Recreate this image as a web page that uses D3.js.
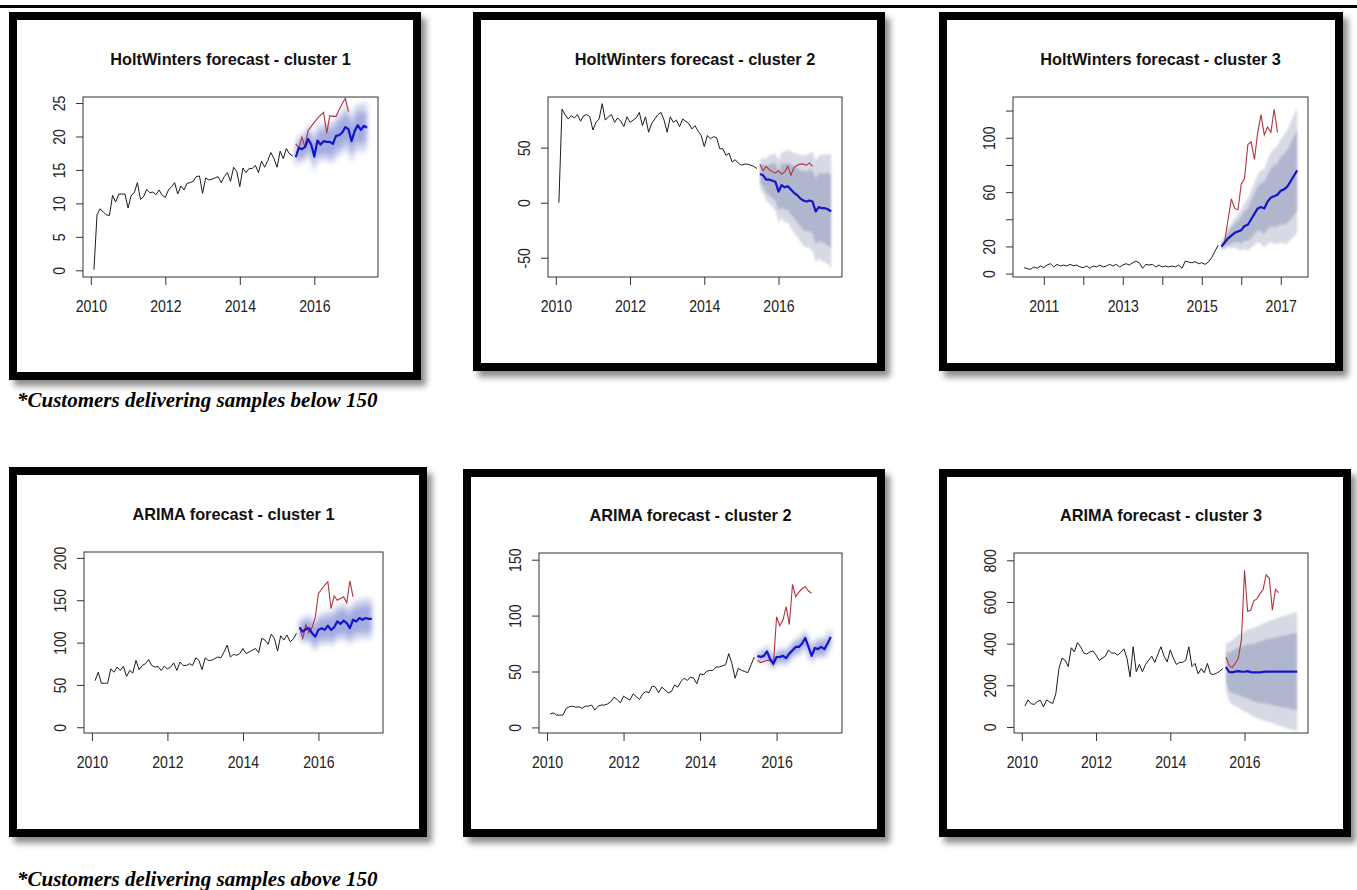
<!DOCTYPE html>
<html>
<head>
<meta charset="utf-8">
<title>Forecasts by cluster</title>
<script src="https://cdn.jsdelivr.net/npm/d3@7"></script>
<style>
    body { margin: 0; background: #fff; }
    svg { display: block; }
</style>
</head>
<body>
<svg width="1357" height="890"></svg>
<script>
// ---- HoltWinters, cluster 1 (monthly, from Feb 2010) ----
var hw1Hist = [0.1, 8.3, 9.2, 8.7, 8.3, 8.2, 11.2, 10.2, 11.4, 11.4, 11.4, 9.3, 11.2, 11.6, 13.1, 10.6, 11.0, 12.1, 11.6, 11.7,
    11.3, 12.0, 11.2, 10.9, 12.0, 12.5, 13.1, 11.4, 12.6, 12.0, 13.0, 13.1, 13.3, 14.0, 14.1, 11.5, 13.8, 13.5, 13.6, 13.8,
    14.0, 13.1, 14.0, 14.6, 13.3, 15.4, 14.8, 12.5, 15.3, 14.6, 15.2, 15.2, 15.7, 14.6, 16.3, 15.4, 16.4, 17.6, 16.7, 15.4,
    17.8, 16.7, 18.2, 17.4, 17.1];
var hw1Fc = [16.9, 18.3, 18.1, 18.4, 19.6, 18.8, 17.0, 19.4, 18.8, 19.3, 19.2, 19.2, 18.9, 20.1, 20.2, 20.6, 21.4, 21.1, 19.3, 20.8, 21.7, 21.0, 21.6, 21.3];
var hw1Act = [18.9, 18.3, 19.9, 18.4, 20.9, 21.5, 22.1, 22.7, 23.2, 23.6, 20.5, 23.1, 23.0, 23.0, 24.0, 24.9, 25.7, 23.7];
var hw1Pi80 = [1.2, 1.3, 1.4, 1.4, 1.5, 1.6, 1.6, 1.7, 1.8, 1.8, 1.9, 2.0, 2.0, 2.0, 2.1, 2.1, 2.1, 2.1, 2.2, 2.2, 2.3, 2.3, 2.3, 2.3];
var hw1Pi95 = [1.8, 2.0, 2.1, 2.2, 2.3, 2.4, 2.5, 2.6, 2.7, 2.8, 2.9, 3.0, 3.0, 3.1, 3.2, 3.2, 3.3, 3.3, 3.4, 3.4, 3.5, 3.5, 3.6, 3.6];

// ---- HoltWinters, cluster 2 (from Feb 2010) ----
var hw2Hist = [0, 85, 80, 76, 79, 77, 80, 74, 79, 80, 78, 66, 73, 76, 90, 75, 78, 80, 73, 77,
    74, 69, 78, 73, 75, 77, 82, 70, 78, 64, 72, 76, 80, 82, 75, 64, 78, 73, 75, 69,
    76, 74, 72, 67, 70, 65, 61, 51, 61, 58, 60, 59, 49, 49, 43, 45, 37, 39, 36, 34,
    35, 35, 34, 33, 31];
var hw2Fc = [26, 25, 21, 21, 20, 19, 10, 16, 14, 15, 12, 9, 7, 4, 2, 1, 2, 1, -8, -4, -5, -5, -6, -8];
var hw2Act = [35, 29, 33, 30, 28, 27, 29, 26, 28, 33, 25, 32, 34, 35, 35, 34, 36, 33];
var hw2Pi80 = [8, 10, 12, 14, 16, 17, 18, 20, 21, 21, 23, 23, 25, 25, 27, 27, 28, 29, 30, 31, 31, 32, 33, 34];
var hw2Pi95 = [13, 16, 19, 22, 24, 26, 28, 30, 32, 33, 35, 36, 38, 39, 41, 42, 43, 45, 46, 47, 48, 49, 50, 52];

// ---- HoltWinters, cluster 3 (from Jul 2010) ----
var hw3Hist = [4.4, 3.6, 3.2, 4.9, 3.9, 5.6, 4.4, 6.3, 7.3, 4.9, 6.8, 5.6, 6.3, 5.6, 6.8, 5.8, 6.3, 4.9, 4.4, 5.6,
    3.9, 5.6, 4.9, 6.3, 4.9, 5.6, 6.8, 5.6, 6.8, 4.9, 6.3, 7.3, 6.3, 8.0, 9.2, 8.0, 3.9, 6.8, 6.3, 6.8,
    4.9, 6.3, 4.9, 5.6, 4.9, 5.6, 4.9, 6.3, 3.9, 9.2, 8.5, 8.0, 8.8, 7.3, 8.0, 6.8, 8.5, 11.7, 16.5, 20.9];
var hw3Fc = [20, 23, 26, 28, 30, 31, 32, 35, 36, 40, 44, 48, 49, 48, 53, 56, 57, 58, 61, 62, 64, 68, 72, 76];
var hw3Act = [20, 24, 40, 55, 48, 47, 66, 70, 95, 97, 84, 104, 117, 102, 108, 104, 121, 104];
var hw3Pi80 = [2, 3, 5, 6, 7, 8, 10, 11, 12, 14, 15, 16, 18, 19, 20, 21, 23, 23, 25, 26, 27, 28, 29, 30];
var hw3Pi95 = [3, 5, 7, 9, 11, 13, 15, 17, 19, 21, 23, 25, 27, 29, 31, 33, 35, 36, 38, 40, 42, 43, 45, 46];

// ---- ARIMA, cluster 1 (from Feb 2010) ----
var ar1Hist = [55, 65, 52, 52, 52, 69, 65, 71, 67, 72, 60, 67, 64, 79, 68, 73, 75, 80, 73, 71,
    72, 67, 72, 69, 71, 76, 67, 77, 73, 73, 75, 73, 82, 79, 68, 82, 79, 79, 81, 83,
    82, 89, 97, 83, 86, 85, 87, 93, 87, 89, 91, 93, 88, 105, 103, 98, 110, 105, 90, 108,
    103, 109, 101, 104, 111];
var ar1Fc = [118, 113, 116, 117, 111, 107, 115, 117, 115, 120, 115, 118, 125, 122, 126, 123, 117, 127, 125, 129, 127, 129, 128, 128];
var ar1Act = [118, 105, 121, 112, 118, 130, 158, 163, 168, 172, 140, 155, 150, 152, 154, 147, 173, 154];
var ar1Pi80 = [9, 10, 10, 11, 11, 12, 12, 12, 12, 13, 13, 14, 14, 14, 14, 14, 14, 15, 15, 15, 16, 16, 16, 16];
var ar1Pi95 = [14, 15, 16, 17, 17, 18, 18, 19, 19, 20, 20, 21, 21, 21, 22, 22, 22, 23, 23, 23, 24, 24, 24, 25];

// ---- ARIMA, cluster 2 (from Feb 2010) ----
var ar2Hist = [12, 13, 11, 11, 11, 17, 18.5, 19, 18, 18.5, 17, 19, 19, 20, 15.5, 19, 20, 20, 21, 23,
    27, 25, 22, 28, 26, 24.5, 30, 27.5, 25, 30, 32, 31, 37, 36, 31, 36, 33.5, 31, 32, 38,
    36, 41, 44, 42, 45, 44, 39, 48, 47, 50, 51, 51, 54, 54, 55, 56, 66, 57, 44, 53,
    51, 50, 49, 56, 63];
var ar2Fc = [64, 63, 64, 68, 61, 57, 63, 63, 64, 62, 66, 69, 72, 72, 75, 80, 72, 64, 71, 70, 72, 70, 75, 81];
var ar2Act = [60, 58, 59, 60, 60, 56, 99, 91, 96, 108, 92, 128, 117, 121, 124, 126, 122, 120];
var ar2Pi80 = [3, 3, 4, 4, 4, 4, 4, 4, 5, 5, 5, 5, 5, 5, 5, 5, 5, 5, 5, 6, 6, 6, 6, 6];
var ar2Pi95 = [5, 5, 6, 6, 6, 6, 7, 7, 7, 7, 7, 7, 8, 8, 8, 8, 8, 8, 8, 9, 9, 9, 9, 9];

// ---- ARIMA, cluster 3 (from Feb 2010) ----
var ar3Hist = [100, 130, 112, 108, 122, 128, 96, 130, 120, 112, 160, 280, 330, 320, 290, 380, 360, 405, 385, 355,
    350, 360, 365, 345, 320, 330, 340, 370, 355, 355, 345, 358, 375, 330, 240, 385, 265, 300, 265, 300,
    320, 340, 310, 350, 385, 340, 312, 370, 330, 300, 310, 310, 320, 385, 290, 305, 255, 280, 260, 305,
    255, 252, 258, 268, 280];
var ar3Fc = [288, 264, 262, 266, 268, 266, 265, 268, 263, 262, 262, 262, 264, 266, 266, 266, 266, 266, 266, 266, 266, 266, 266, 266];
var ar3Act = [335, 295, 285, 305, 330, 420, 752, 555, 560, 605, 615, 640, 660, 730, 715, 560, 660, 645];
var ar3Pi80 = [75, 91, 101, 107, 114, 120, 125, 130, 135, 138, 143, 147, 151, 155, 158, 161, 165, 168, 172, 174, 177, 180, 183, 185];
var ar3Pi95 = [115, 140, 155, 165, 175, 185, 192, 200, 207, 213, 220, 226, 232, 238, 243, 248, 254, 259, 264, 268, 273, 277, 281, 285];

// axis ticks
var yearTicks = [2010, 2012, 2014, 2016];
var hw3YearTicks = [2011, 2012, 2013, 2014, 2015, 2016, 2017];
var hw3YearLabels = [2011, 2013, 2015, 2017];
var hw3ValTicks = [0, 20, 40, 60, 80, 100, 120];
var hw3ValLabels = [0, 20, 60, 100];

var notes = ['*Customers delivering samples below 150', '*Customers delivering samples above 150'];

var panels = [
    { title: 'HoltWinters forecast - cluster 1', frame: [9, 12, 421, 380], box: [83, 97, 378, 277],
      xDom: [2009.79, 2017.71], yDom: [-1.0, 25.9], start: [2010, 2],
      hist: hw1Hist, fc: hw1Fc, act: hw1Act, pi80: hw1Pi80, pi95: hw1Pi95,
      xt: yearTicks, xl: yearTicks, yt: [0, 5, 10, 15, 20, 25], yl: [0, 5, 10, 15, 20, 25], soft: true },
    { title: 'HoltWinters forecast - cluster 2', frame: [473, 12, 885, 371], box: [548, 97, 842, 277],
      xDom: [2009.79, 2017.71], yDom: [-67.5, 96], start: [2010, 2],
      hist: hw2Hist, fc: hw2Fc, act: hw2Act, pi80: hw2Pi80, pi95: hw2Pi95,
      xt: yearTicks, xl: yearTicks, yt: [-50, 0, 50], yl: [-50, 0, 50], soft: false },
    { title: 'HoltWinters forecast - cluster 3', frame: [939, 12, 1343, 371], box: [1013, 97, 1308, 277],
      xDom: [2010.22, 2017.69], yDom: [-2.5, 130], start: [2010, 7],
      hist: hw3Hist, fc: hw3Fc, act: hw3Act, pi80: hw3Pi80, pi95: hw3Pi95,
      xt: hw3YearTicks, xl: hw3YearLabels, yt: hw3ValTicks, yl: hw3ValLabels, soft: false },
    { title: 'ARIMA forecast - cluster 1', frame: [9, 467, 427, 837], box: [84, 552, 383, 733],
      xDom: [2009.79, 2017.71], yDom: [-6.8, 207], start: [2010, 2],
      hist: ar1Hist, fc: ar1Fc, act: ar1Act, pi80: ar1Pi80, pi95: ar1Pi95,
      xt: yearTicks, xl: yearTicks, yt: [0, 50, 100, 150, 200], yl: [0, 50, 100, 150, 200], soft: true },
    { title: 'ARIMA forecast - cluster 2', frame: [463, 469, 885, 837], box: [539, 553, 842, 733],
      xDom: [2009.79, 2017.71], yDom: [-5, 156], start: [2010, 2],
      hist: ar2Hist, fc: ar2Fc, act: ar2Act, pi80: ar2Pi80, pi95: ar2Pi95,
      xt: yearTicks, xl: yearTicks, yt: [0, 50, 100, 150], yl: [0, 50, 100, 150], soft: true },
    { title: 'ARIMA forecast - cluster 3', frame: [939, 469, 1351, 837], box: [1014, 553, 1308, 733],
      xDom: [2009.79, 2017.71], yDom: [-29, 835], start: [2010, 2],
      hist: ar3Hist, fc: ar3Fc, act: ar3Act, pi80: ar3Pi80, pi95: ar3Pi95,
      xt: yearTicks, xl: yearTicks, yt: [0, 200, 400, 600, 800], yl: [0, 200, 400, 600, 800], soft: false }
];

var svg = d3.select('svg');
var defs = svg.append('defs');

var shadow = defs.append('filter').attr('id', 'shadow')
    .attr('x', '-5%').attr('y', '-5%').attr('width', '115%').attr('height', '115%');
shadow.append('feDropShadow')
    .attr('dx', 5).attr('dy', 6).attr('stdDeviation', 3)
    .attr('flood-color', '#000').attr('flood-opacity', 0.45);
defs.append('filter').attr('id', 'blurSoft')
    .append('feGaussianBlur').attr('stdDeviation', 2.6);
defs.append('filter').attr('id', 'blurLight')
    .append('feGaussianBlur').attr('stdDeviation', 1.2);

// thin rule at the very top
svg.append('rect')
    .attr('x', 0).attr('y', 5).attr('width', 1357).attr('height', 3)
    .attr('fill', '#000');

panels.forEach(drawPanel);

// footnotes
svg.selectAll('text.note')
    .data(notes)
    .enter()
    .append('text')
    .attr('class', 'note')
    .attr('x', 17)
    .attr('y', function(d, i) { return i === 0 ? 407 : 886; })
    .attr('font-family', '"Liberation Serif", "Times New Roman", serif')
    .attr('font-weight', 'bold')
    .attr('font-style', 'italic')
    .attr('font-size', '21px')
    .attr('fill', '#000')
    .text(function(d) { return d; });

function drawPanel(p, k) {
    var g = svg.append('g');
    var fr = p.frame;
    g.append('rect')
        .attr('x', fr[0] + 4).attr('y', fr[1] + 4)
        .attr('width', fr[2] - fr[0] - 8).attr('height', fr[3] - fr[1] - 8)
        .attr('fill', '#fff')
        .attr('stroke', '#000')
        .attr('stroke-width', 8)
        .attr('filter', 'url(#shadow)');

    var b = p.box;
    var x = d3.scaleLinear().domain(p.xDom).range([b[0], b[2]]);
    var y = d3.scaleLinear().domain(p.yDom).range([b[3], b[1]]);

    defs.append('clipPath').attr('id', 'clip' + k)
        .append('rect')
        .attr('x', b[0]).attr('y', b[1])
        .attr('width', b[2] - b[0]).attr('height', b[3] - b[1]);

    // time of each month
    var t0 = p.start[0] + (p.start[1] - 1) / 12;
    var f0 = t0 + p.hist.length / 12;

    var plot = g.append('g').attr('clip-path', 'url(#clip' + k + ')');

    // prediction intervals (95% light, 80% darker)
    var band = function(w) {
        return d3.area()
            .x(function(d, i) { return x(f0 + i / 12); })
            .y0(function(d, i) { return y(d - w[i]); })
            .y1(function(d, i) { return y(d + w[i]); });
    };
    var bands = plot.append('g')
        .attr('filter', p.soft ? 'url(#blurSoft)' : 'url(#blurLight)');
    bands.append('path')
        .attr('d', band(p.pi95)(p.fc))
        .attr('fill', p.soft ? '#cfd4ee' : '#d7dae4');
    bands.append('path')
        .attr('d', band(p.pi80)(p.fc))
        .attr('fill', p.soft ? '#a3acdf' : '#b0b6cd');

    var histLine = d3.line()
        .x(function(d, i) { return x(t0 + i / 12); })
        .y(function(d) { return y(d); });
    var fcLine = d3.line()
        .x(function(d, i) { return x(f0 + i / 12); })
        .y(function(d) { return y(d); });

    plot.append('path')
        .attr('d', histLine(p.hist))
        .attr('fill', 'none')
        .attr('stroke', '#1c1c1c')
        .attr('stroke-width', 1);
    plot.append('path')
        .attr('d', fcLine(p.act))
        .attr('fill', 'none')
        .attr('stroke', '#b3343c')
        .attr('stroke-width', 1.1);
    plot.append('path')
        .attr('d', fcLine(p.fc))
        .attr('fill', 'none')
        .attr('stroke', '#1414cc')
        .attr('stroke-width', 2.2)
        .attr('stroke-linejoin', 'round');

    // plot box
    g.append('rect')
        .attr('x', b[0]).attr('y', b[1])
        .attr('width', b[2] - b[0]).attr('height', b[3] - b[1])
        .attr('fill', 'none')
        .attr('stroke', '#333')
        .attr('stroke-width', 1);

    // axes
    var xAxis = g.append('g')
        .attr('transform', 'translate(0,' + b[3] + ')')
        .call(d3.axisBottom(x)
            .tickValues(p.xt)
            .tickSize(8)
            .tickSizeOuter(0)
            .tickPadding(16)
            .tickFormat(function(v) { return p.xl.indexOf(v) >= 0 ? String(v) : ''; }));
    var yAxis = g.append('g')
        .attr('transform', 'translate(' + b[0] + ',0)')
        .call(d3.axisLeft(y)
            .tickValues(p.yt)
            .tickSize(7)
            .tickSizeOuter(0)
            .tickFormat(function(v) { return p.yl.indexOf(v) >= 0 ? String(v) : ''; }));

    [xAxis, yAxis].forEach(function(ax) {
        ax.select('.domain').remove();
        ax.selectAll('line').attr('stroke', '#333');
        ax.selectAll('text')
            .attr('fill', '#222')
            .attr('font-family', '"Liberation Sans", Arial, sans-serif')
            .attr('font-size', '16px');
    });
    xAxis.selectAll('text').attr('transform', 'scale(0.88,1)');
    yAxis.selectAll('text')
        .attr('x', 0)
        .attr('y', -18)
        .attr('dy', 0)
        .attr('text-anchor', 'middle')
        .attr('transform', 'rotate(-90) scale(0.88,1)');

    // title
    g.append('text')
        .attr('x', (b[0] + b[2]) / 2)
        .attr('y', b[1] - 32)
        .attr('text-anchor', 'middle')
        .attr('font-family', '"Liberation Sans", Arial, sans-serif')
        .attr('font-weight', 'bold')
        .attr('font-size', '16.3px')
        .attr('fill', '#111')
        .text(p.title);
}
</script>
</body>
</html>
